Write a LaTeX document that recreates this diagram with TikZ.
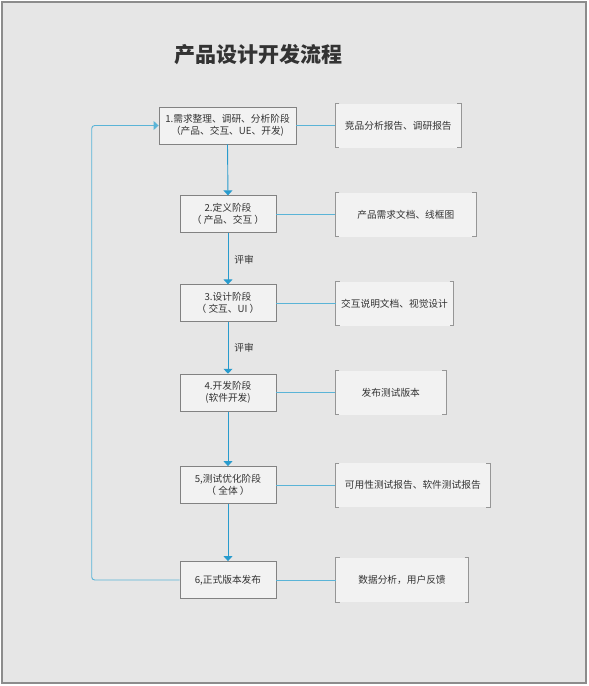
\documentclass[tikz,border=0pt]{standalone}
\usepackage{fontspec}
\setmainfont{Noto Sans CJK SC}
\usetikzlibrary{arrows.meta}
\definecolor{bg}{RGB}{230,230,230}
\definecolor{frame}{RGB}{140,140,140}
\definecolor{boxfill}{RGB}{242,242,242}
\definecolor{boxline}{RGB}{130,130,130}
\definecolor{brk}{RGB}{150,150,150}
\definecolor{txt}{RGB}{51,51,51}
\definecolor{arrowblue}{RGB}{40,155,205}
\definecolor{linkblue}{RGB}{90,180,215}
\begin{document}
\begin{tikzpicture}[x=1pt,y=-1pt,
  stage/.style={draw=boxline,line width=0.9pt,fill=boxfill,minimum width=96pt,minimum height=37pt,
    inner sep=1pt,align=center,text=txt,font=\fontsize{9.7}{12}\selectfont},
  note/.style={fill=boxfill,minimum height=44pt,inner sep=1pt,align=center,text=txt,
    font=\fontsize{9.7}{12}\selectfont},
  flow/.style={draw=arrowblue,line width=0.9pt,-{Triangle[width=9pt,length=5pt]}},
  link/.style={draw=linkblue,line width=0.9pt},
  brack/.style={draw=brk,line width=0.9pt},
  lbl/.style={text=txt,font=\fontsize{9.7}{12}\selectfont,inner sep=1pt}]
\useasboundingbox (0,0) rectangle (589,686);
\fill[white] (0,0) rectangle (589,686);
\filldraw[fill=bg,draw=frame,line width=1.2pt] (2,2) rectangle (586,683);
\node[text=txt,font=\fontsize{21}{24}\selectfont\bfseries] (title) at (258,55) {产品设计开发流程};

\node[stage,minimum width=137pt] (b1) at (227.5,125.5) {1.需求整理、调研、分析阶段\\（产品、交互、UE、开发)};
\node[stage] (b2) at (228,214.3) {2.定义阶段\\（ 产品、交互 ）};
\node[stage] (b3) at (228,303.3) {3.设计阶段\\（ 交互、UI ）};
\node[stage] (b4) at (228,392.7) {4.开发阶段\\(软件开发)};
\node[stage] (b5) at (228,485) {5,测试优化阶段\\（ 全体 ）};
\node[stage] (b6) at (228,580) {6,正式版本发布};

\node[note,minimum width=125.3pt] (r1) at (398.3,125.5) {竞品分析报告、调研报告};
\node[note,minimum width=140.3pt] (r2) at (405.8,214.5) {产品需求文档、线框图};
\node[note,minimum width=117.6pt] (r3) at (394.5,303.7) {交互说明文档、视觉设计};
\node[note,minimum width=110.3pt] (r4) at (390.8,392.7) {发布测试版本};
\node[note,minimum width=154.3pt] (r5) at (412.8,485.3) {可用性测试报告、软件测试报告};
\node[note,minimum width=132.6pt] (r6) at (402,580) {数据分析，用户反馈};

\foreach \n in {r1,r2,r3,r4,r5,r6}{
  \draw[brack] ([xshift=4pt]\n.north west) -- (\n.north west) -- (\n.south west) -- ([xshift=4pt]\n.south west);
  \draw[brack] ([xshift=-4pt]\n.north east) -- (\n.north east) -- (\n.south east) -- ([xshift=-4pt]\n.south east);
}

\foreach \i in {1,...,6}{
  \draw[link] (b\i.east) -- (b\i.east -| r\i.west);
}

\draw[flow] (b1.south) -- (b2.north);
\draw[flow] (b2.south) -- node[lbl,right=5pt,pos=0.52] (l1) {评审} (b3.north);
\draw[flow] (b3.south) -- node[lbl,right=5pt,pos=0.5] (l2) {评审} (b4.north);
\draw[flow] (b4.south) -- (b5.north);
\draw[flow] (b5.south) -- (b6.north);

\coordinate (c1) at (91.7,580);
\coordinate (c2) at (91.7,125.5);
\draw[link,rounded corners=3pt,-{Triangle[width=9pt,length=5pt]}] (b6.west) -- (c1) -- (c2) -- (b1.west);
\end{tikzpicture}
\end{document}
